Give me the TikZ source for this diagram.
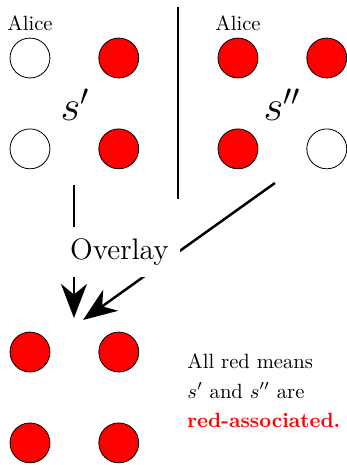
\documentclass[tikz,border=0pt]{standalone}
\usepackage{amsmath, amssymb}
\usepackage{xcolor}
\usetikzlibrary{positioning, arrows.meta}

\begin{document}
\begin{tikzpicture}[
    wdot/.style={circle, draw, thin, fill=white, minimum size=0.68cm, inner sep=0pt},
    rdot/.style={wdot, fill=red},
    bigarrow/.style={-{Stealth[length=0.58cm, width=0.44cm, inset=0.18cm]}, very thick}]
    \useasboundingbox (-0.511,0.989) rectangle (5.405,-6.939);
    % first state
    \node[wdot] (l11) at (0,0) {};
    \node[rdot, right=0.82cm of l11] (l12) {};
    \node[wdot, below=0.855cm of l11] (l21) {};
    \node[rdot, right=0.82cm of l21] (l22) {};
    \node[above=0pt of l11] (alice1) {Alice};
    \node[font=\huge] (sp) at (0.767,-0.80) {$s'$};
    % second state
    \node[rdot] (r11) at (3.546,0) {};
    \node[rdot, right=0.82cm of r11] (r12) {};
    \node[rdot, below=0.855cm of r11] (r21) {};
    \node[wdot, right=0.82cm of r21] (r22) {};
    \node[above=0pt of r11] (alice2) {Alice};
    \node[font=\huge] (spp) at (4.30,-0.80) {$s''$};
    % separator
    \coordinate (septop) at (2.523,0.870);
    \coordinate (sepbot) at (2.523,-2.404);
    \draw[very thick] (septop) -- (sepbot);
    % overlay arrows
    \coordinate (v0) at (0.750,-2.165);
    \coordinate (v1) at (0.750,-4.433);
    \coordinate (d0) at (4.177,-2.131);
    \coordinate (d1) at (0.904,-4.467);
    \draw[bigarrow] (v0) -- (v1);
    \draw[bigarrow] (d0) -- (d1);
    \node[fill=white, inner sep=0.2cm, font=\Large] (overlay) at (1.526,-3.308) {Overlay};
    % result
    \node[rdot] (b11) at (0,-5.013) {};
    \node[rdot, right=0.82cm of b11] (b12) {};
    \node[rdot, below=0.855cm of b11] (b21) {};
    \node[rdot, right=0.82cm of b21] (b22) {};
    \node[anchor=west, align=left] (note) at (2.56,-5.68)
        {All red means\\[2.3pt] $s'$ and $s''$ are\\[2.3pt] \textcolor{red}{\textbf{red-associated.}}};
\end{tikzpicture}
\end{document}
